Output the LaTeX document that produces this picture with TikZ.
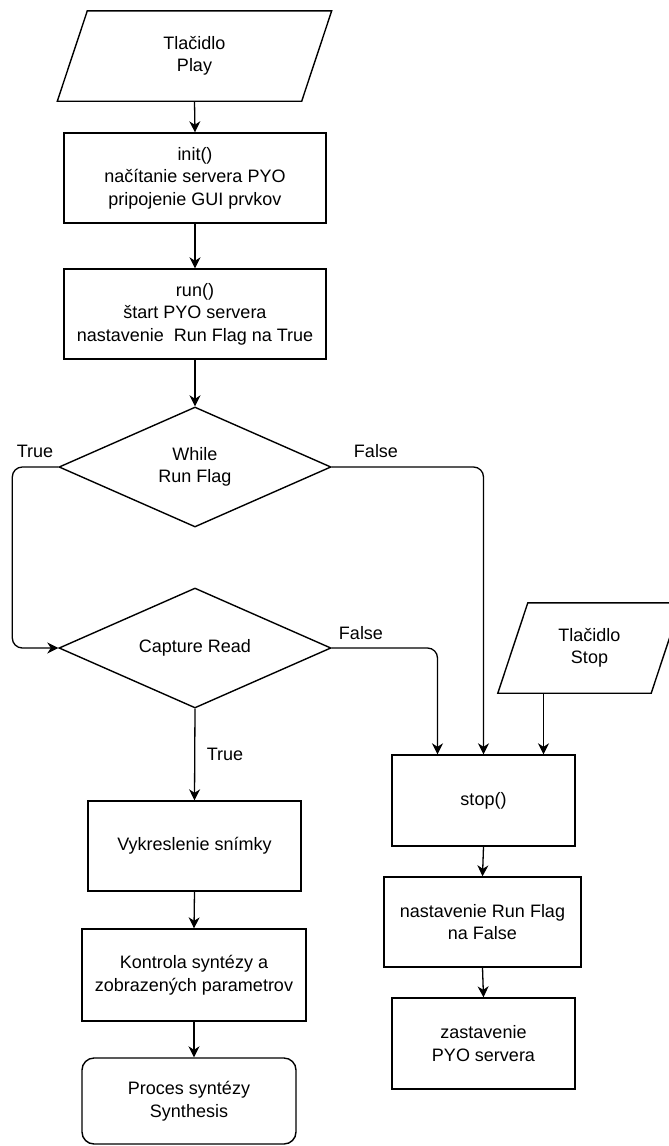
\documentclass[tikz,border=0pt]{standalone}
\usepackage{fontspec}
\setmainfont{Liberation Sans}
\usetikzlibrary{shapes.geometric,arrows.meta,calc}
\begin{document}
\begin{tikzpicture}[x=1pt,y=-1pt,
  every node/.style={font=\fontsize{18}{22.5}\selectfont, align=center},
  box/.style={draw, line width=1.4pt, inner sep=0pt, minimum width=#1, minimum height=90pt},
  rbox/.style={draw, line width=1.4pt, inner sep=0pt, minimum width=#1, minimum height=86pt, rounded corners=12pt},
  io/.style={inner sep=0pt, minimum width=#1, minimum height=90pt},
  shapeline/.style={draw, line width=1.4pt, line join=miter},
  dia/.style={diamond, draw, line width=1.4pt, minimum width=272pt, minimum height=120pt, inner sep=0pt, aspect=2.27},
  lbl/.style={inner sep=0pt},
  arr/.style={draw, line width=1.3pt, -{Stealth[length=11pt,width=11pt,inset=3.5pt]}},
  rarr/.style={arr, rounded corners=10pt}
]
\useasboundingbox (0,0) rectangle (669,1146);

% input shapes
\node[io=244] (play) at (194.5,56) {Tlačidlo\\Play};
\path[shapeline] ([xshift=-15pt]play.south west) -- ([xshift=15pt]play.north west)
  -- ([xshift=15pt]play.north east) -- ([xshift=-15pt]play.south east) -- cycle;

\node[io=153] (stopbtn) at (589.5,648) {Tlačidlo\\Stop};
\path[shapeline] ([xshift=-15pt]stopbtn.south west) -- ([xshift=15pt]stopbtn.north west)
  -- ([xshift=15pt]stopbtn.north east) -- ([xshift=-15pt]stopbtn.south east) -- cycle;

% left column
\node[box=262] (init) at (195,178) {init()\\načítanie servera PYO\\pripojenie GUI prvkov};
\node[box=262] (run) at (195,314) {run()\\štart PYO servera\\nastavenie~ Run Flag na True};
\node[dia] (d1) at (195,467) {While\\Run Flag};
\node[dia] (d2) at (195,648) {Capture Read};
\node[box=213] (vyk) at (194.5,846) {Vykreslenie snímky};
\node[box=224, minimum height=92pt] (kon) at (194,975) {Kontrola syntézy a\\zobrazených parametrov};
\node[rbox=214] (proc) at (189,1101) {Proces syntézy\\Synthesis};

% right column
\node[box=183, minimum height=91pt] (stopf) at (483.5,800.5) {stop()};
\node[box=197] (nast) at (482.5,922) {nastavenie Run Flag\\na False};
\node[box=183, minimum height=91pt] (zast) at (483.5,1043.5) {zastavenie\\PYO servera};

% labels
\node[lbl] (lt1) at (35,451) {True};
\node[lbl] (lf1) at (376,451) {False};
\node[lbl] (lf2) at (361,633) {False};
\node[lbl] (lt2) at (225,754) {True};

% connectors
\draw[arr] (play.south) -- (init.north);
\draw[arr] (init.south) -- (run.north);
\draw[arr] (run.south) -- (d1.north);
\draw[rarr] (d1.west) -- ++(-46,0) |- (d2.west);
\draw[rarr] (d1.east) -| (stopf.north);
\coordinate (s1) at ([xshift=-46pt]stopf.north);
\draw[rarr] (d2.east) -| (s1);
\coordinate (s3) at ([xshift=60pt]stopf.north);
\draw[arr] (stopbtn.south -| s3) -- (s3);
\draw[arr] (d2.south) -- (vyk.north);
\draw[arr] (vyk.south) -- (kon.north);
\draw[arr] (kon.south) -- (proc.north -| kon.south);
\draw[arr] (stopf.south) -- (nast.north);
\draw[arr] (nast.south) -- (zast.north);
\end{tikzpicture}
\end{document}
